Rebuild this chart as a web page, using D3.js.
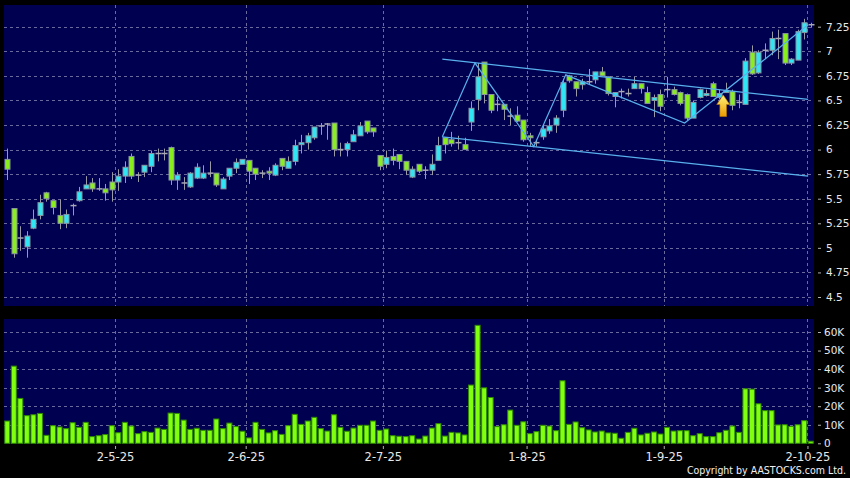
<!DOCTYPE html>
<html>
<head>
<meta charset="utf-8">
<script src="https://cdn.jsdelivr.net/npm/d3@7"></script>
<style>
body { margin: 0; background: #000; }
svg { display: block; font-family: "DejaVu Sans", sans-serif; }
</style>
</head>
<body>
<script>
// daily candles, 3-4-25 .. 2-10-25
var open = [5.90,5.40,5.10,5.01,5.20,5.33,5.56,5.48,5.33,5.25,
  5.43,5.48,5.60,5.66,5.60,5.60,5.67,5.67,5.73,5.93,
  5.74,5.77,5.83,5.96,5.96,6.02,5.69,5.66,5.62,5.71,
  5.71,5.76,5.76,5.60,5.73,5.81,5.85,5.89,5.81,5.76,
  5.78,5.74,5.91,5.81,5.88,6.05,6.07,6.12,6.24,6.26,
  6.27,6.00,6.00,6.08,6.14,6.29,6.22,5.94,5.85,5.93,
  5.95,5.88,5.72,5.85,5.79,5.79,5.89,6.12,6.10,6.07,
  6.05,6.28,6.51,6.89,6.56,6.46,6.46,6.34,6.35,6.30,
  6.14,6.07,6.13,6.19,6.25,6.40,6.75,6.69,6.66,6.69,
  6.71,6.79,6.74,6.54,6.59,6.57,6.62,6.67,6.58,6.50,
  6.56,6.61,6.61,6.58,6.56,6.32,6.53,6.55,6.67,6.53,
  6.58,6.59,6.48,6.46,6.99,6.78,7.01,7.01,7.13,7.18,
  6.88,6.91,7.19,7.27];
var high = [6.01,5.40,5.22,5.17,5.39,5.54,5.57,5.48,5.49,5.39,
  5.45,5.62,5.73,5.71,5.71,5.65,5.77,5.80,5.88,5.96,
  5.77,5.84,5.99,6.01,6.01,6.03,5.77,5.72,5.77,5.86,
  5.84,5.88,5.76,5.72,5.81,5.91,5.90,5.89,5.81,5.79,
  5.82,5.86,5.91,5.93,6.10,6.15,6.17,6.23,6.27,6.27,
  6.27,6.07,6.08,6.20,6.28,6.29,6.22,5.94,5.99,6.01,
  5.95,5.88,5.83,5.85,5.83,5.95,6.13,6.12,6.18,6.14,
  6.12,6.49,6.88,6.89,6.56,6.54,6.46,6.42,6.44,6.30,
  6.17,6.10,6.25,6.31,6.35,6.72,6.76,6.69,6.72,6.82,
  6.79,6.84,6.74,6.58,6.62,6.62,6.74,6.67,6.64,6.56,
  6.61,6.74,6.64,6.59,6.57,6.50,6.62,6.61,6.69,6.61,
  6.68,6.61,6.56,6.93,7.06,7.01,7.08,7.20,7.22,7.18,
  6.93,7.22,7.33,7.29];
var low = [5.69,4.90,4.97,4.90,5.19,5.29,5.47,5.34,5.19,5.20,
  5.33,5.47,5.60,5.57,5.58,5.48,5.47,5.58,5.66,5.70,
  5.67,5.72,5.77,5.88,5.89,5.64,5.59,5.59,5.61,5.70,
  5.70,5.72,5.62,5.60,5.69,5.76,5.85,5.65,5.69,5.71,
  5.69,5.73,5.79,5.81,5.84,5.96,6.00,6.10,6.15,6.10,
  5.93,5.93,5.93,6.08,6.14,6.16,6.13,5.79,5.81,5.84,
  5.80,5.74,5.71,5.76,5.70,5.74,5.89,5.96,6.03,6.00,
  6.00,6.19,6.40,6.47,6.37,6.39,6.30,6.25,6.28,6.08,
  6.03,6.03,6.10,6.16,6.17,6.33,6.68,6.54,6.61,6.66,
  6.67,6.75,6.55,6.43,6.52,6.54,6.62,6.57,6.47,6.33,
  6.39,6.53,6.55,6.45,6.30,6.32,6.52,6.54,6.54,6.51,
  6.58,6.40,6.42,6.46,6.76,6.77,6.92,6.96,6.92,6.86,
  6.86,6.91,7.12,7.24];
var close = [5.80,4.94,5.10,5.12,5.29,5.46,5.50,5.41,5.25,5.34,
  5.43,5.57,5.64,5.60,5.60,5.56,5.59,5.73,5.82,5.73,
  5.74,5.84,5.96,5.96,5.96,5.69,5.74,5.66,5.76,5.82,
  5.76,5.76,5.64,5.70,5.81,5.87,5.90,5.78,5.75,5.76,
  5.76,5.84,5.83,5.88,6.04,6.07,6.14,6.23,6.24,6.26,
  6.00,6.00,6.06,6.15,6.24,6.18,6.18,5.83,5.92,5.89,
  5.88,5.79,5.80,5.78,5.79,5.85,6.04,6.05,6.06,6.07,
  6.00,6.42,6.74,6.56,6.40,6.46,6.41,6.34,6.29,6.10,
  6.12,6.07,6.21,6.24,6.32,6.68,6.70,6.62,6.69,6.69,
  6.79,6.75,6.57,6.58,6.59,6.57,6.67,6.62,6.47,6.53,
  6.44,6.61,6.56,6.47,6.32,6.48,6.61,6.57,6.54,6.57,
  6.60,6.45,6.48,6.90,6.77,6.99,7.01,7.13,7.13,6.88,
  6.92,7.20,7.29,7.27];
// volume in thousands of shares
var volume = [12.0,41.6,24.2,14.9,15.4,16.1,4.3,9.5,8.8,7.9,
  11.1,8.6,11.3,3.6,4.1,4.7,9.5,5.7,11.3,9.3,
  5.2,6.3,5.9,8.2,7.5,16.3,16.1,12.5,7.5,8.1,
  7.0,7.0,13.1,7.9,10.9,9.0,6.5,2.9,11.3,7.5,
  5.6,6.8,4.8,9.5,15.6,10.2,12.0,14.0,7.9,6.6,
  15.4,8.6,6.5,8.2,9.7,9.7,12.0,7.0,7.7,4.1,
  3.8,3.6,4.1,2.3,3.9,8.2,10.6,3.9,5.9,5.6,
  4.5,31.4,63.6,29.9,24.7,9.0,10.0,17.9,9.7,11.6,
  5.2,6.3,9.7,9.3,6.8,33.7,10.2,11.5,8.4,7.2,
  6.1,6.6,5.6,5.4,2.7,5.9,8.1,4.5,5.4,6.1,
  5.0,8.6,6.6,6.8,6.8,4.1,5.2,3.6,3.6,5.7,
  7.0,9.3,5.9,29.4,29.2,21.3,17.6,17.6,9.9,10.0,
  9.1,10.0,12.2,1.1];

var tickIndex = [17, 37, 58, 80, 101, 123];
var tickLabels = ["2-5-25", "2-6-25", "2-7-25", "1-8-25", "1-9-25", "2-10-25"];
var priceTicks = [4.5, 4.75, 5, 5.25, 5.5, 5.75, 6, 6.25, 6.5, 6.75, 7, 7.25];
var volTicks = [0, 10, 20, 30, 40, 50, 60];

// drawn pattern: [bar index, price]
var zigzag = [[66.6, 6.13], [71.6, 6.88], [80.6, 6.03], [85.5, 6.76], [103.7, 6.27], [122.6, 7.27]];
var upperLine = [[66.6, 6.92], [122.6, 6.51]];
var lowerLine = [[66.6, 6.13], [122.6, 5.73]];
var arrowAt = [109.6, 6.555];

var width = 850, height = 478;
var left = 4, right = 814;
var priceTop = 5, priceBottom = 306;
var volTop = 319, volBottom = 443.5;

var svg = d3.select("body").append("svg")
  .attr("width", width)
  .attr("height", height);

svg.append("rect").attr("width", width).attr("height", height).attr("fill", "#000");

var x = d3.scaleLinear().domain([-0.5, open.length - 0.5]).range([left, right]);
var yP = d3.scaleLinear().domain([4.5, 7.25]).range([297, 26.7]);
var yV = d3.scaleLinear().domain([0, 60]).range([443.3, 332]);

// panels
svg.append("rect").attr("x", left).attr("y", priceTop)
  .attr("width", right - left).attr("height", priceBottom - priceTop).attr("fill", "#000050");
svg.append("rect").attr("x", left).attr("y", volTop)
  .attr("width", right - left).attr("height", volBottom - volTop).attr("fill", "#000050");

var gridColor = "#6a6a9c";

//horizontal grid
svg.append("g").selectAll("line").data(priceTicks).enter().append("line")
  .attr("x1", left).attr("x2", right)
  .attr("y1", d => Math.round(yP(d)) + 0.5).attr("y2", d => Math.round(yP(d)) + 0.5)
  .attr("stroke", gridColor).attr("stroke-dasharray", "3,3");
svg.append("g").selectAll("line").data(volTicks.slice(1)).enter().append("line")
  .attr("x1", left).attr("x2", right)
  .attr("y1", d => Math.round(yV(d)) + 0.5).attr("y2", d => Math.round(yV(d)) + 0.5)
  .attr("stroke", gridColor).attr("stroke-dasharray", "3,3");

//vertical grid
tickIndex.forEach(function(i){
  var gx = Math.round(x(i - 0.5)) + 0.5;
  [[priceTop, priceBottom], [volTop, volBottom]].forEach(function(r){
    svg.append("line").attr("x1", gx).attr("x2", gx).attr("y1", r[0]).attr("y2", r[1])
      .attr("stroke", gridColor).attr("stroke-dasharray", "3,3");
  });
});

//volume bars
svg.append("g").selectAll("rect").data(volume).enter().append("rect")
  .attr("x", (d, i) => x(i) - 2.5)
  .attr("width", 5)
  .attr("y", d => yV(d))
  .attr("height", d => yV(0) - yV(d))
  .attr("fill", "#80ff10")
  .attr("stroke", "#2f8a00")
  .attr("stroke-width", 1);

//candles
var candles = svg.append("g").selectAll("g").data(open).enter().append("g");
candles.append("line")
  .attr("x1", (d, i) => Math.round(x(i)) + 0.5).attr("x2", (d, i) => Math.round(x(i)) + 0.5)
  .attr("y1", (d, i) => yP(high[i])).attr("y2", (d, i) => yP(low[i]))
  .attr("stroke", "#9a9aa6");
candles.each(function(d, i){
  var g = d3.select(this);
  var cx = Math.round(x(i)) + 0.5;
  if (open[i] === close[i]) {
    g.append("line").attr("x1", cx - 3).attr("x2", cx + 3)
      .attr("y1", yP(open[i])).attr("y2", yP(open[i]))
      .attr("stroke", "#a8a8b4").attr("stroke-width", 1.5);
  } else {
    var up = close[i] > open[i];
    var top = yP(Math.max(open[i], close[i])), bot = yP(Math.min(open[i], close[i]));
    g.append("rect").attr("x", cx - 2.5).attr("width", 5)
      .attr("y", top).attr("height", Math.max(1, bot - top))
      .attr("fill", up ? "#30e6f4" : "#88ee1c")
      .attr("stroke", "#8894a0").attr("stroke-width", 1);
  }
});

//pattern lines
var line = d3.line().x(d => x(d[0])).y(d => yP(d[1]));
[zigzag, upperLine, lowerLine].forEach(function(pts){
  svg.append("path").attr("d", line(pts))
    .attr("fill", "none").attr("stroke", "#58b0ec").attr("stroke-width", 1.2);
});

//breakout arrow
var grad = svg.append("defs").append("linearGradient").attr("id", "arrowGrad")
  .attr("x1", 0).attr("y1", 0).attr("x2", 0).attr("y2", 1);
grad.append("stop").attr("offset", "0%").attr("stop-color", "#fff27a");
grad.append("stop").attr("offset", "100%").attr("stop-color", "#eb9b00");
var ax = x(arrowAt[0]), ay = yP(arrowAt[1]);
svg.append("path")
  .attr("d", "M" + ax + "," + ay + " l6.5,9.5 h-3.2 v12 h-6.6 v-12 h-3.2 z")
  .attr("fill", "url(#arrowGrad)").attr("stroke", "#b87800").attr("stroke-width", 0.6);

//right axes
var priceAxis = svg.append("g").attr("transform", "translate(818,0)")
  .call(d3.axisRight(yP).tickValues(priceTicks).tickSize(3).tickPadding(5).tickFormat(d => String(d)));
var volAxis = svg.append("g").attr("transform", "translate(818,0)")
  .call(d3.axisRight(yV).tickValues(volTicks).tickSize(3).tickPadding(3).tickFormat(d => d === 0 ? "0" : d + "K"));
[priceAxis, volAxis].forEach(function(a){
  a.select(".domain").remove();
  a.selectAll("line").attr("stroke", "#b0b0b0");
  a.selectAll("text").attr("fill", "#e8e8e8").style("font-size", "10.5px")
    .style("font-family", "DejaVu Sans, sans-serif");
});

//date axis
var dateAxis = svg.append("g").attr("transform", "translate(0,446)")
  .call(d3.axisBottom(x).tickValues(tickIndex.map(i => i - 0.5)).tickSize(3).tickPadding(4)
    .tickFormat((d, k) => tickLabels[k]));
dateAxis.select(".domain").remove();
dateAxis.selectAll("line").attr("stroke", "#b0b0b0");
dateAxis.selectAll("text").attr("fill", "#e8e8e8").style("font-size", "11.5px")
  .style("font-family", "DejaVu Sans, sans-serif");

svg.append("text").attr("x", 846).attr("y", 474).attr("text-anchor", "end")
  .attr("fill", "#f0f0f0").style("font-size", "10.5px")
  .style("font-family", "DejaVu Sans Condensed, DejaVu Sans, sans-serif")
  .text("Copyright by AASTOCKS.com Ltd.");
</script>
</body>
</html>
